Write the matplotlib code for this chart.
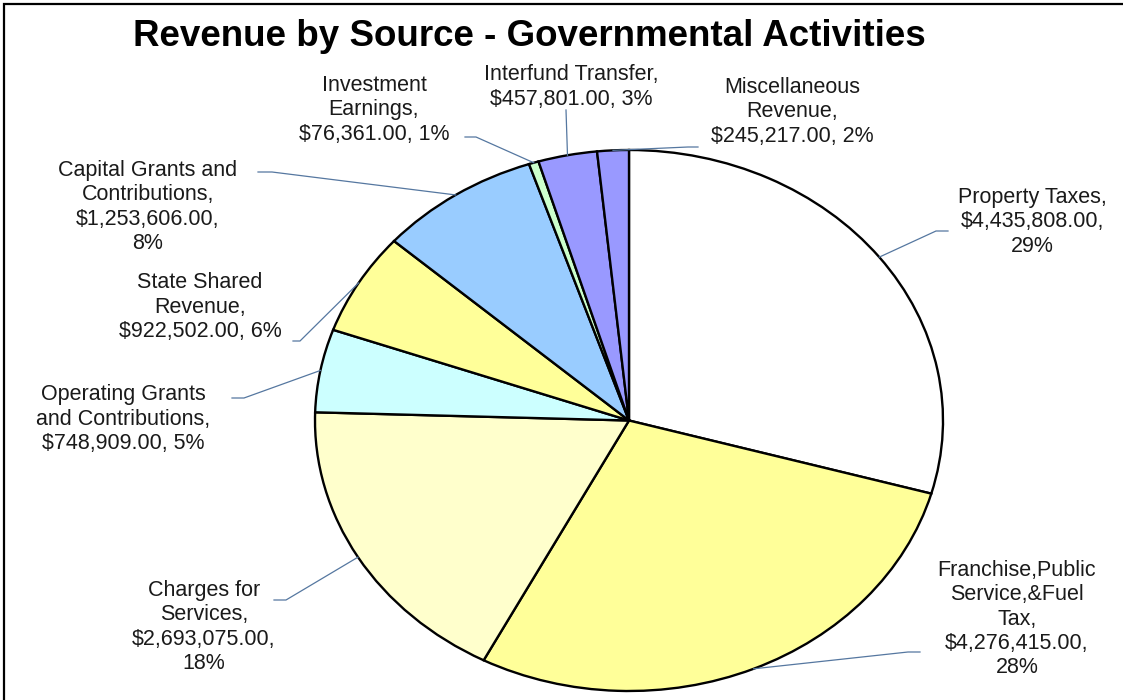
import matplotlib
matplotlib.use("Agg")
import matplotlib.pyplot as plt
from matplotlib.lines import Line2D
from matplotlib.patches import Rectangle
from matplotlib.transforms import IdentityTransform
import numpy as np

plt.rcParams['font.family'] = ['Liberation Sans', 'DejaVu Sans']

# revenue by source, clockwise from 12 o'clock
sources = ['Property Taxes', 'Franchise,Public\nService,&Fuel\nTax',
           'Charges for\nServices', 'Operating Grants\nand Contributions',
           'State Shared\nRevenue', 'Capital Grants and\nContributions',
           'Investment\nEarnings', 'Interfund Transfer', 'Miscellaneous\nRevenue']
amounts = [4435808, 4276415, 2693075, 748909, 922502, 1253606, 76361, 457801, 245217]
colors = ['#FFFFFF', '#FFFF99', '#FFFFCC', '#CCFFFF', '#FFFF99', '#99CCFF',
          '#CCFFCC', '#9999FF', '#9999FF']
label_text = [
    'Property Taxes,\n$4,435,808.00,\n29%',
    'Franchise,Public\nService,&Fuel\nTax,\n$4,276,415.00,\n28%',
    'Charges for\nServices,\n$2,693,075.00,\n18%',
    'Operating Grants\nand Contributions,\n$748,909.00, 5%',
    'State Shared\nRevenue,\n$922,502.00, 6%',
    'Capital Grants and\nContributions,\n$1,253,606.00,\n8%',
    'Investment\nEarnings,\n$76,361.00, 1%',
    'Interfund Transfer,\n$457,801.00, 3%',
    'Miscellaneous\nRevenue,\n$245,217.00, 2%',
]

W, H = 1123, 700
# label block centres (px from top-left) and leader start / elbow points
label_pos = [(1032, 222), (1017, 619), (204, 627), (123, 419), (200, 307),
             (148, 207), (374, 110), (571, 87), (792, 112)]
leader_start = [(948, 231), (920, 652), (274, 600), (232, 398), (293, 341),
                (258, 172), (465, 137), (566, 110), (698, 147)]
leader_elbow = [(936, 231), (908, 652), (286, 600), (244, 398), (300, 341),
                (272, 172), (476, 137), (566, 110), (688, 147)]

fig = plt.figure(figsize=(W / 100, H / 100), dpi=100)
fig.patch.set_facecolor('white')

# pie is stretched into an ellipse (Excel style)
ax = fig.add_axes([315 / W, (H - 691) / H, 628 / W, 541 / H])
wedges, _ = ax.pie(amounts, colors=colors, startangle=90, counterclock=False,
                   wedgeprops=dict(edgecolor='black', linewidth=1.7))
ax.set_aspect('auto')
ax.set_xlim(-1, 1)
ax.set_ylim(-1, 1)
ax.axis('off')

fig.text(529 / W, 1 - 37 / H, 'Revenue by Source - Governmental Activities',
         ha='center', va='center', fontsize=26.5, fontweight='bold', color='black')

fig.canvas.draw()
for i, w in enumerate(wedges):
    mid = np.deg2rad((w.theta1 + w.theta2) / 2)
    ex, ey = ax.transData.transform((np.cos(mid), np.sin(mid)))
    tx, ty = label_pos[i]
    fig.text(tx / W, 1 - ty / H, label_text[i], ha='center', va='center',
             fontsize=15.5, color='#1a1a1a', linespacing=1.2)
    sx, sy = leader_start[i]
    bx, by = leader_elbow[i]
    fig.add_artist(Line2D([sx, bx, ex], [H - sy, H - by, ey],
                          transform=IdentityTransform(), color='#5577a0', lw=0.9))

# chart frame (left and top edges visible)
fig.add_artist(Rectangle((4 / W, -0.05), 1.2, 1 - 4 / H + 0.05, transform=fig.transFigure,
                         fill=False, edgecolor='black', lw=1.6))

fig.savefig('out.png', dpi=100)
